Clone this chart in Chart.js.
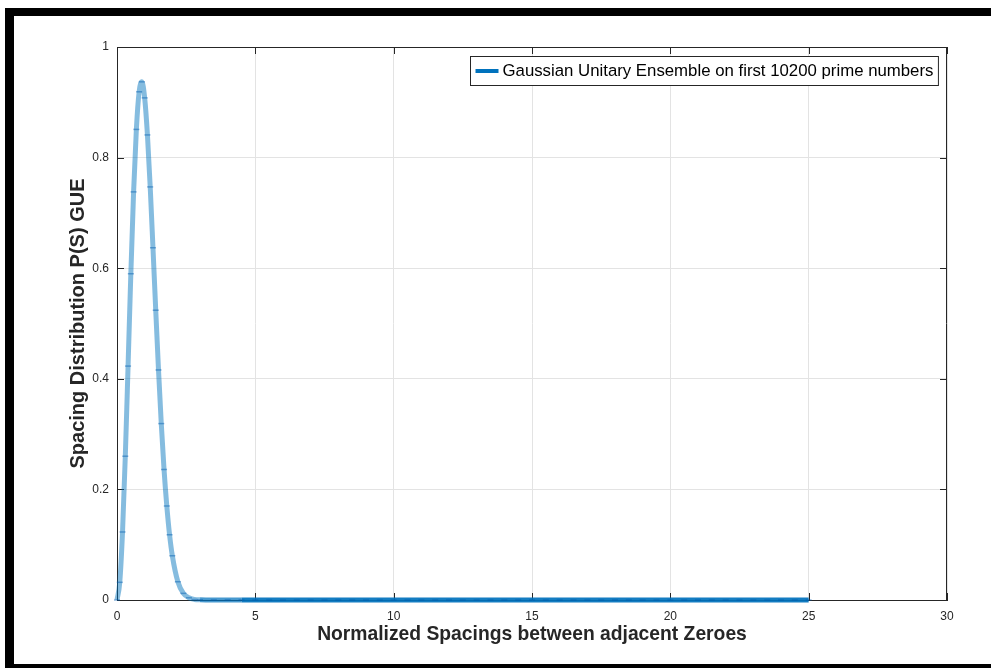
<!DOCTYPE html>
<html>
<head>
<meta charset="utf-8">
<script src="https://cdn.jsdelivr.net/npm/chart.js@4/dist/chart.umd.min.js"></script>
<style>
  html, body { margin: 0; padding: 0; background: #ffffff; }
  #wrap { width: 991px; height: 668px; position: relative; }
</style>
</head>
<body>
<div id="wrap"><canvas id="c" width="991" height="668"></canvas></div>
<script>
// Normalized spacing S between adjacent zeroes
const spacing = [
  0, 0.1, 0.2, 0.3, 0.4, 0.5, 0.6, 0.7, 0.8, 0.9,
  1.0, 1.1, 1.2, 1.3, 1.4, 1.5, 1.6, 1.7, 1.8, 1.9,
  2.0, 2.2, 2.4, 2.6, 2.8, 3.0,
  3.5, 4, 4.5, 5, 5.5, 6, 6.5, 7, 7.5, 8, 8.5, 9, 9.5, 10,
  10.5, 11, 11.5, 12, 12.5, 13, 13.5, 14, 14.5, 15, 15.5, 16, 16.5, 17,
  17.5, 18, 18.5, 19, 19.5, 20, 20.5, 21, 21.5, 22, 22.5, 23, 23.5, 24, 24.5, 25
];
// Spacing distribution P(S)
const density = [
  0, 0.032, 0.123, 0.260, 0.423, 0.590, 0.738, 0.851, 0.919, 0.937,
  0.908, 0.841, 0.747, 0.637, 0.524, 0.416, 0.319, 0.236, 0.170, 0.118,
  0.080, 0.033, 0.012, 0.004, 0.001, 0.0003,
  0, 0, 0, 0, 0, 0, 0, 0, 0, 0, 0, 0, 0, 0,
  0, 0, 0, 0, 0, 0, 0, 0, 0, 0, 0, 0, 0, 0,
  0, 0, 0, 0, 0, 0, 0, 0, 0, 0, 0, 0, 0, 0, 0, 0
];
const xTicks = [0, 5, 10, 15, 20, 25, 30];
const xTickLabels = ['0', '5', '10', '15', '20', '25', '30'];
const yTicks = [0, 0.2, 0.4, 0.6, 0.8, 1];
const yTickLabels = ['0', '0.2', '0.4', '0.6', '0.8', '1'];
const seriesLabel = 'Gaussian Unitary Ensemble on first 10200 prime numbers';
const xTitle = 'Normalized Spacings between adjacent Zeroes';
const yTitle = 'Spacing Distribution P(S) GUE';

const AXIS = '#262626';
const GRID = '#e3e3e3';
const BLUE = '#0072BD';
const FONT = '"Liberation Sans", Arial, Helvetica, sans-serif';

const points = spacing.map((x, i) => ({ x: x, y: density[i] }));

// Box axes (top/right), inward tick marks, legend and the figure frame
const decorations = {
  id: 'decorations',
  beforeDatasetsDraw(chart) {
    const { ctx, chartArea: a, scales: { x, y } } = chart;
    ctx.save();
    ctx.strokeStyle = AXIS;
    ctx.lineWidth = 1;
    ctx.beginPath();
    ctx.moveTo(a.left, Math.round(a.top) + 0.5);
    ctx.lineTo(a.right, Math.round(a.top) + 0.5);
    ctx.moveTo(Math.round(a.right) - 0.5, a.top);
    ctx.lineTo(Math.round(a.right) - 0.5, a.bottom);
    const tl = 7;
    xTicks.forEach(v => {
      const px = Math.round(x.getPixelForValue(v)) + 0.5;
      ctx.moveTo(px, a.bottom); ctx.lineTo(px, a.bottom - tl);
      ctx.moveTo(px, a.top); ctx.lineTo(px, a.top + tl);
    });
    yTicks.forEach(v => {
      const py = Math.round(y.getPixelForValue(v)) + 0.5;
      ctx.moveTo(a.left, py); ctx.lineTo(a.left + tl, py);
      ctx.moveTo(a.right, py); ctx.lineTo(a.right - tl, py);
    });
    ctx.stroke();
    ctx.restore();
  },
  afterDatasetsDraw(chart) {
    const { ctx, chartArea: a } = chart;
    const label = chart.data.datasets[0].label;
    ctx.save();
    ctx.font = '16.8px ' + FONT;
    const tw = ctx.measureText(label).width;
    const bw = tw + 37, bh = 29;
    const bx = Math.round(a.right - 9 - bw) + 0.5, by = 56.5;
    ctx.fillStyle = '#ffffff';
    ctx.fillRect(bx, by, bw, bh);
    ctx.strokeStyle = AXIS;
    ctx.lineWidth = 1;
    ctx.strokeRect(bx, by, bw, bh);
    ctx.strokeStyle = BLUE;
    ctx.lineWidth = 4;
    ctx.beginPath();
    ctx.moveTo(bx + 5, by + bh / 2);
    ctx.lineTo(bx + 28, by + bh / 2);
    ctx.stroke();
    ctx.fillStyle = '#000000';
    ctx.textBaseline = 'middle';
    ctx.textAlign = 'left';
    ctx.fillText(label, bx + 32, by + bh / 2 + 0.5);
    ctx.restore();
  },
  afterDraw(chart) {
    const { ctx } = chart;
    ctx.save();
    ctx.fillStyle = '#000000';
    ctx.fillRect(5, 8, 986, 8);    // top edge
    ctx.fillRect(5, 8, 9, 660);    // left edge
    ctx.fillRect(5, 664, 986, 4);  // bottom edge
    ctx.restore();
  }
};

const whiteBg = {
  id: 'whiteBg',
  beforeDraw(chart) {
    const { ctx, width, height } = chart;
    ctx.save();
    ctx.fillStyle = '#ffffff';
    ctx.fillRect(0, 0, width, height);
    ctx.restore();
  }
};

// Overlapping samples make the flat tail read darker than the peak
function tailColor(ctx) {
  const x0 = ctx.p0.parsed.x;
  if (x0 >= 4.5) return 'rgba(0,114,189,0.92)';
  if (x0 >= 3.0) return 'rgba(0,114,189,0.72)';
  return undefined;
}

new Chart(document.getElementById('c'), {
  type: 'line',
  data: {
    datasets: [{
      label: seriesLabel,
      data: points,
      borderColor: 'rgba(0,114,189,0.48)',
      borderWidth: 5,
      cubicInterpolationMode: 'monotone',
      pointRadius: 3,
      pointStyle: 'line',
      pointBorderColor: 'rgba(0,90,175,0.45)',
      pointBorderWidth: 1.5,
      pointBackgroundColor: 'rgba(0,0,0,0)',
      clip: false,
      segment: { borderColor: tailColor }
    }]
  },
  options: {
    responsive: false,
    animation: false,
    devicePixelRatio: 1,
    layout: { padding: { top: 47, right: 44, left: 0, bottom: 0 } },
    plugins: { legend: { display: false }, tooltip: { enabled: false } },
    scales: {
      x: {
        type: 'linear',
        min: 0, max: 30,
        afterBuildTicks: s => { s.ticks = xTicks.map(v => ({ value: v })); },
        afterFit: s => { s.height = 68; },
        grid: { color: GRID, drawTicks: false },
        border: { color: AXIS, width: 1 },
        ticks: {
          color: AXIS, font: { family: FONT, size: 12 }, padding: 9, maxRotation: 0,
          callback: (v, i) => xTickLabels[i]
        },
        title: {
          display: true, text: xTitle, color: AXIS,
          font: { family: FONT, size: 19.3, weight: 'bold' },
          padding: { top: 0, bottom: 22 }
        }
      },
      y: {
        type: 'linear',
        min: 0, max: 1,
        afterBuildTicks: s => { s.ticks = yTicks.map(v => ({ value: v })); },
        afterFit: s => { s.width = 117; },
        grid: { color: GRID, drawTicks: false },
        border: { color: AXIS, width: 1 },
        ticks: {
          color: AXIS, font: { family: FONT, size: 12 }, padding: 8,
          callback: (v, i) => yTickLabels[i]
        },
        title: {
          display: true, text: yTitle, color: AXIS,
          font: { family: FONT, size: 20, weight: 'bold' },
          padding: { top: 66, bottom: 0 }
        }
      }
    }
  },
  plugins: [whiteBg, decorations]
});
</script>
</body>
</html>
